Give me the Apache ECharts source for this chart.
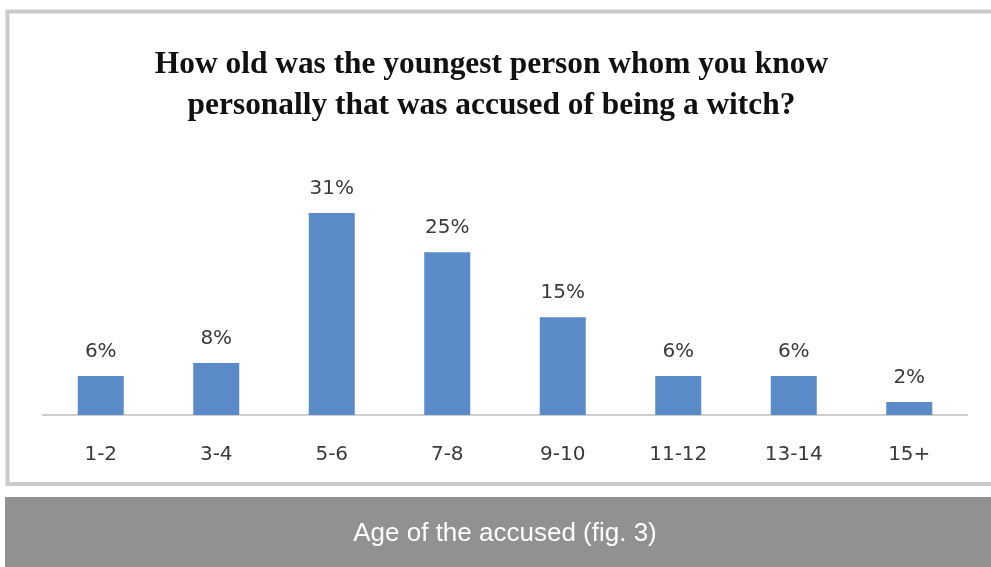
<!DOCTYPE html>
<html>
<head>
<meta charset="utf-8">
<title>Age of the accused</title>
<script src="https://cdn.jsdelivr.net/npm/echarts@6/dist/echarts.min.js"></script>
<style>
  html, body { margin: 0; padding: 0; background: #ffffff; }
  #chart { width: 991px; height: 567px; }
</style>
</head>
<body>
<div id="chart"></div>
<script>
// Age groups of the youngest accused person and share of respondents
const ageGroups = ['1-2', '3-4', '5-6', '7-8', '9-10', '11-12', '13-14', '15+'];
const shares = [6, 8, 31, 25, 15, 6, 6, 2];
const chartTitle = 'How old was the youngest person whom you know\npersonally that was accused of being a witch?';
const caption = 'Age of the accused (fig. 3)';

const chart = echarts.init(document.getElementById('chart'), null, { renderer: 'canvas' });

chart.setOption({
  backgroundColor: '#ffffff',
  animation: false,
  title: {
    text: chartTitle,
    left: 491.5,
    top: 44,
    padding: 0,
    textAlign: 'center',
    textStyle: {
      fontFamily: '"Liberation Serif", "Times New Roman", serif',
      fontWeight: 'bold',
      fontSize: 31.4,
      lineHeight: 41,
      color: '#111111'
    }
  },
  grid: { left: 43, right: 24, top: 187, bottom: 152 },
  xAxis: {
    type: 'category',
    data: ageGroups,
    axisLine: { lineStyle: { color: '#cfcfcf', width: 2 } },
    axisTick: { show: false },
    axisLabel: {
      margin: 30,
      fontFamily: '"DejaVu Sans", sans-serif',
      fontSize: 20,
      color: '#3a3a3a'
    }
  },
  yAxis: {
    type: 'value',
    min: 0,
    max: 35,
    show: false,
    splitLine: { show: false }
  },
  series: [{
    type: 'bar',
    data: shares,
    barWidth: 46,
    itemStyle: { color: '#5a8bc8' },
    label: {
      show: true,
      position: 'top',
      distance: 14,
      formatter: '{c}%',
      fontFamily: '"DejaVu Sans", sans-serif',
      fontSize: 20,
      color: '#3a3a3a'
    }
  }],
  graphic: [
    {
      // chart frame
      type: 'rect',
      silent: true,
      z: -1,
      shape: { x: 7.5, y: 11.5, width: 1000, height: 472.5 },
      style: { fill: 'none', stroke: '#cbcbcb', lineWidth: 4 }
    },
    {
      // caption band
      type: 'rect',
      silent: true,
      shape: { x: 5, y: 497, width: 986, height: 70 },
      style: { fill: '#919191' }
    },
    {
      type: 'text',
      silent: true,
      x: 505,
      y: 534,
      style: {
        text: caption,
        fill: '#ffffff',
        fontFamily: '"Liberation Sans", Helvetica, Arial, sans-serif',
        fontSize: 26,
        align: 'center',
        verticalAlign: 'middle'
      }
    }
  ]
});
</script>
</body>
</html>
